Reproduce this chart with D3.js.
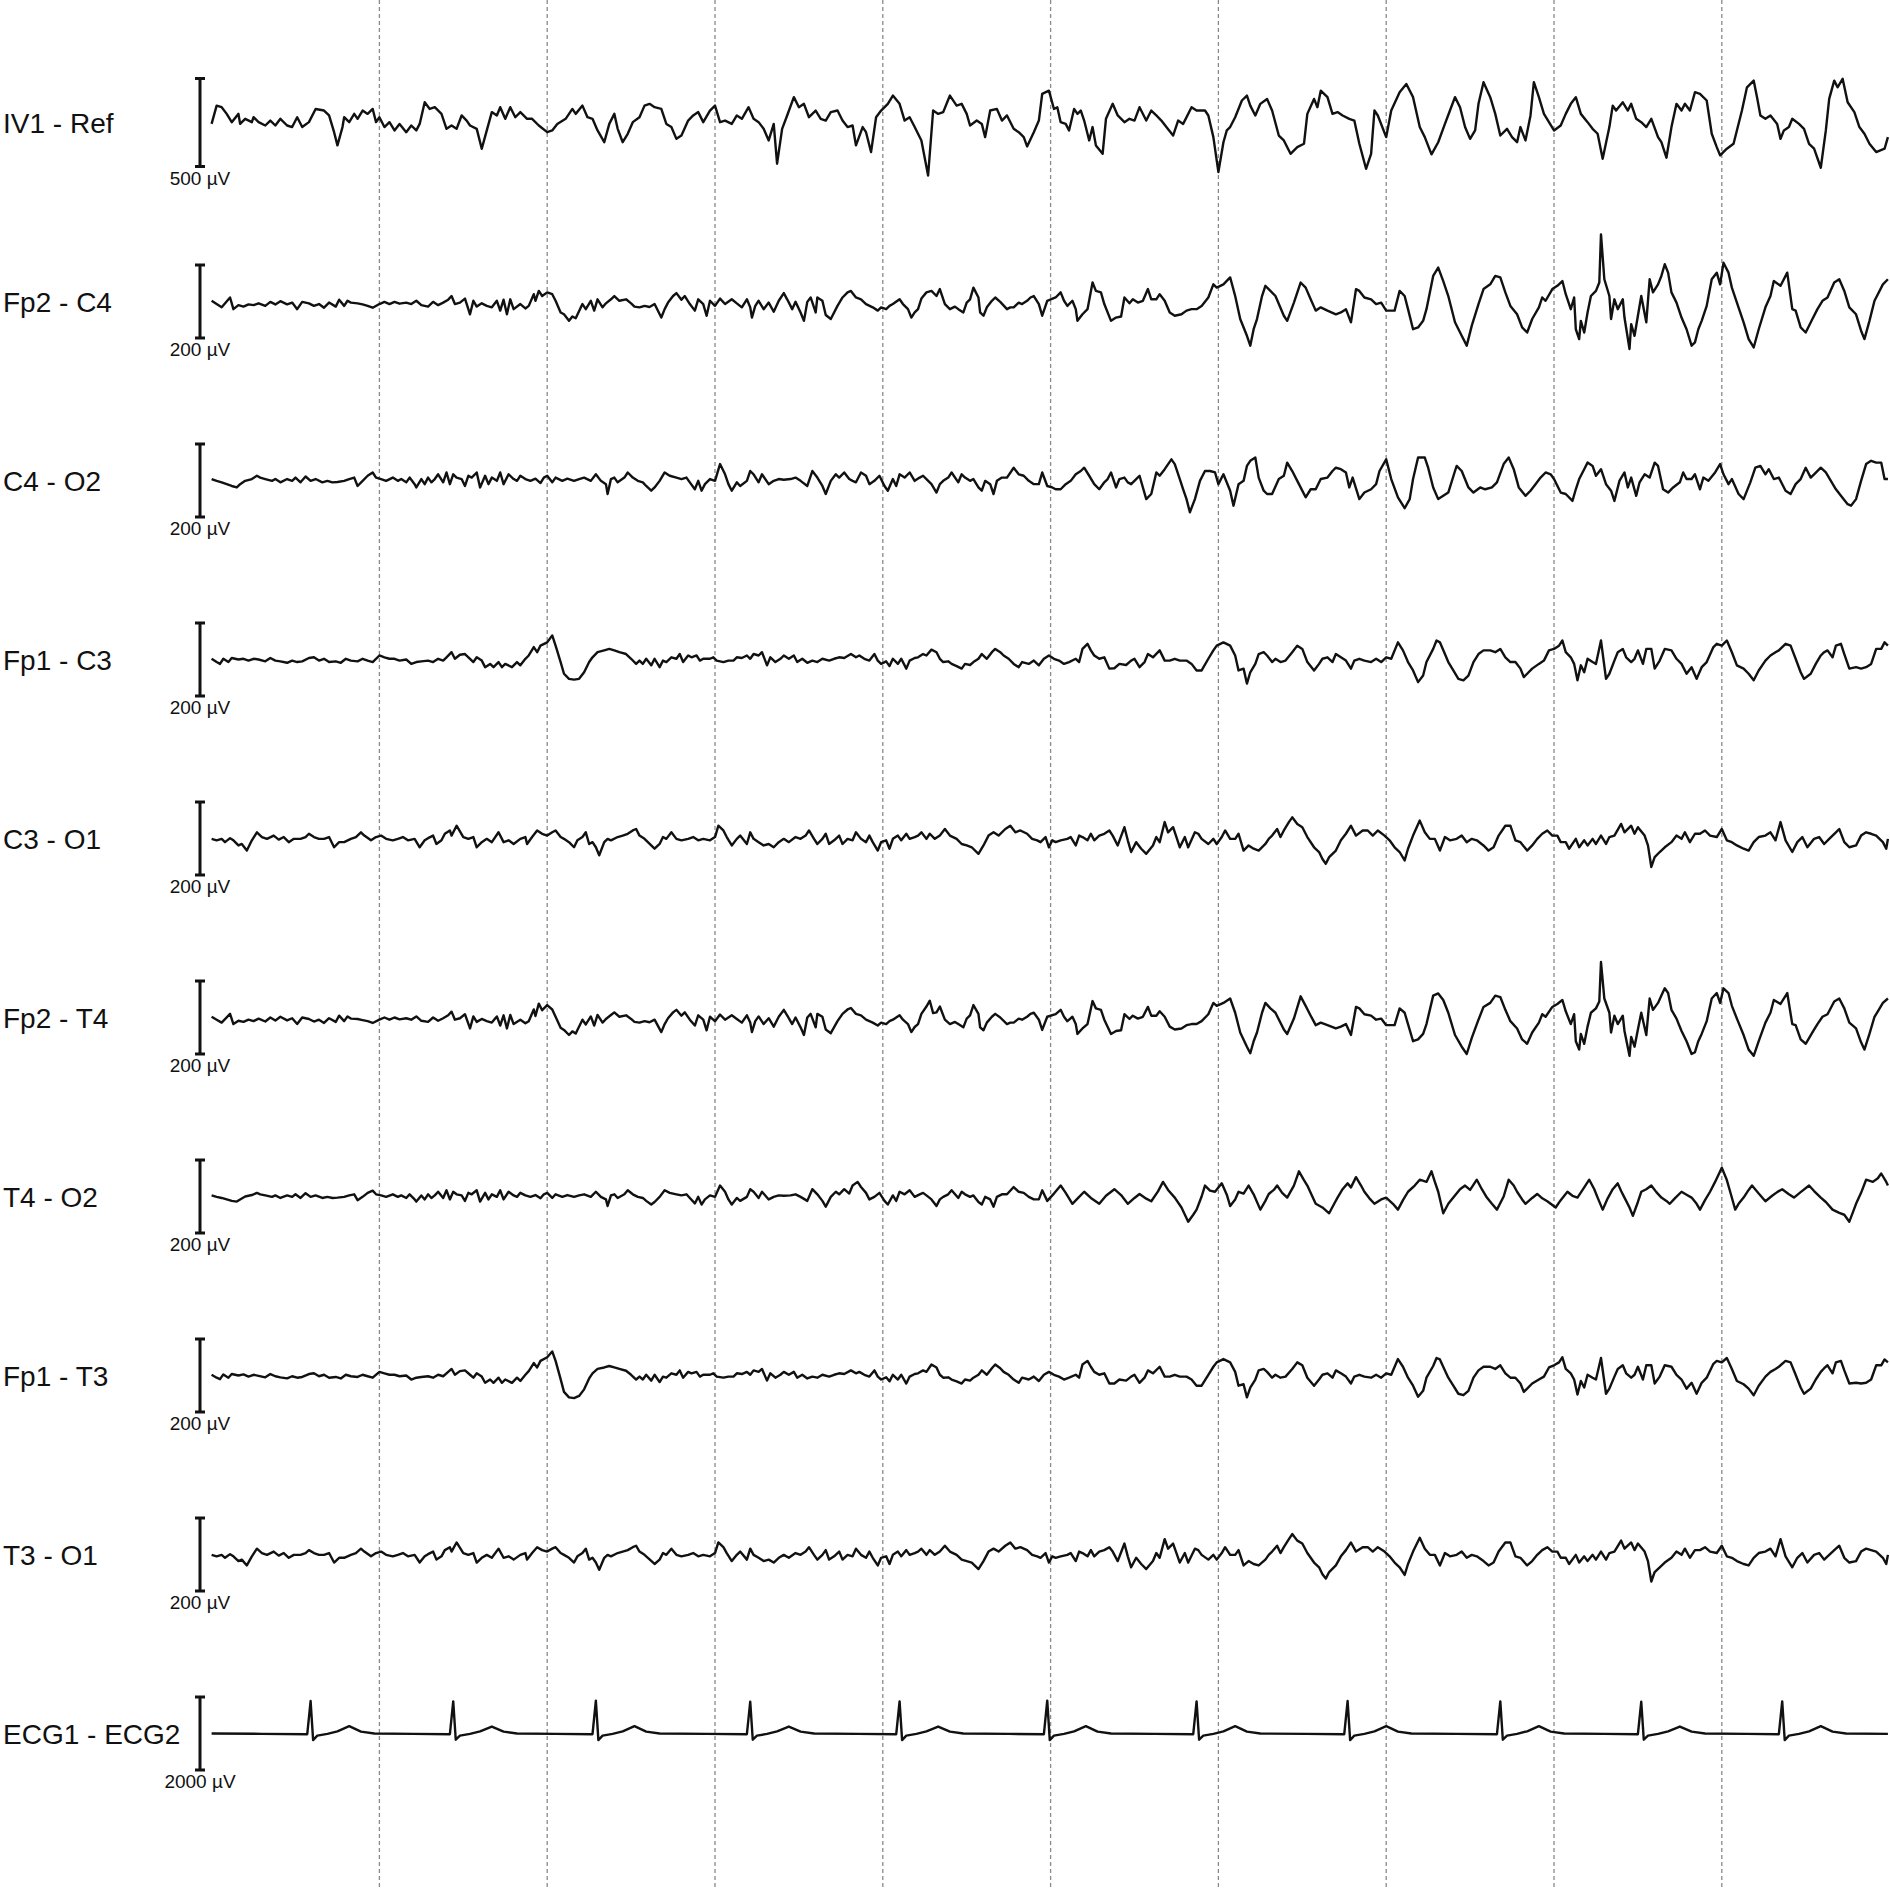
<!DOCTYPE html>
<html>
<head>
<meta charset="utf-8">
<script src="https://cdnjs.cloudflare.com/ajax/libs/d3/7.8.5/d3.min.js"></script>
<style>
    body { margin: 0; background: #fff; }
    svg { display: block; }
</style>
</head>
<body>
<svg id="eegSvg" width="1890" height="1890"></svg>
<script>
var channels = ["IV1 - Ref", "Fp2 - C4", "C4 - O2", "Fp1 - C3", "C3 - O1",
    "Fp2 - T4", "T4 - O2", "Fp1 - T3", "T3 - O1", "ECG1 - ECG2"];
var scaleBarsUv = [500, 200, 200, 200, 200, 200, 200, 200, 200, 2000];
var gridSeconds = [1, 2, 3, 4, 5, 6, 7, 8, 9];
var duration = [0, 10];

// [seconds, microvolts]
var iv1Ref = [[0,-8],[0.03,96],[0.06,87],[0.09,49],[0.12,2],[0.16,49],[0.17,-8],[0.2,21],[0.24,2],[0.25,30],[0.28,2],[0.32,-17],[0.35,11],[0.38,-17],[0.41,21],[0.45,-17],[0.48,-26],[0.51,30],[0.54,-26],[0.58,2],[0.62,77],[0.67,68],[0.7,40],[0.73,-55],[0.75,-130],[0.78,-26],[0.79,30],[0.82,2],[0.85,49],[0.87,21],[0.9,68],[0.93,49],[0.96,77],[0.98,2],[1,30],[1.03,-26],[1.06,2],[1.09,-45],[1.12,-8],[1.16,-55],[1.19,-17],[1.22,-45],[1.24,-8],[1.27,115],[1.3,77],[1.33,87],[1.37,49],[1.4,-36],[1.43,-17],[1.46,-36],[1.49,40],[1.52,11],[1.54,-17],[1.58,-36],[1.61,-149],[1.64,-45],[1.67,59],[1.7,40],[1.72,87],[1.75,21],[1.78,87],[1.81,30],[1.84,59],[1.88,21],[1.91,21],[1.95,-17],[2,-55],[2.03,-45],[2.06,-8],[2.11,21],[2.15,77],[2.17,49],[2.21,96],[2.24,30],[2.27,21],[2.3,-45],[2.34,-112],[2.37,-8],[2.4,49],[2.42,-36],[2.45,-112],[2.48,-64],[2.51,2],[2.55,30],[2.58,96],[2.61,106],[2.64,87],[2.68,77],[2.71,-8],[2.74,-26],[2.77,-93],[2.8,-74],[2.84,11],[2.87,40],[2.9,59],[2.93,2],[2.97,68],[3,96],[3.03,2],[3.06,11],[3.1,-8],[3.13,40],[3.16,21],[3.2,87],[3.23,21],[3.26,2],[3.29,-36],[3.32,-102],[3.35,-8],[3.37,-234],[3.4,-36],[3.43,40],[3.47,144],[3.5,87],[3.53,106],[3.56,30],[3.6,68],[3.63,21],[3.66,11],[3.69,59],[3.73,68],[3.76,11],[3.79,-26],[3.82,-17],[3.84,-130],[3.88,-26],[3.9,-55],[3.93,-168],[3.96,30],[3.99,68],[4.03,106],[4.06,153],[4.1,106],[4.13,11],[4.16,30],[4.19,-26],[4.23,-102],[4.27,-301],[4.3,68],[4.33,49],[4.36,59],[4.4,153],[4.44,96],[4.47,106],[4.5,49],[4.52,-17],[4.56,11],[4.59,-8],[4.61,-83],[4.64,68],[4.68,77],[4.71,11],[4.74,40],[4.78,-36],[4.81,-55],[4.84,-83],[4.86,-136],[4.9,-55],[4.93,11],[4.95,163],[4.99,181],[5.02,77],[5.04,87],[5.06,2],[5.09,-8],[5.11,-45],[5.14,77],[5.16,49],[5.18,68],[5.2,11],[5.23,-102],[5.25,-26],[5.27,-130],[5.31,-178],[5.33,21],[5.37,106],[5.4,40],[5.44,2],[5.47,21],[5.5,11],[5.53,87],[5.57,11],[5.6,68],[5.63,40],[5.66,11],[5.69,-26],[5.73,-74],[5.76,11],[5.79,-8],[5.84,87],[5.87,68],[5.92,68],[5.94,40],[5.97,-83],[6,-282],[6.03,-112],[6.05,-45],[6.07,-26],[6.1,30],[6.14,125],[6.17,153],[6.19,96],[6.22,40],[6.25,106],[6.29,134],[6.32,68],[6.36,-74],[6.39,-102],[6.43,-178],[6.47,-140],[6.51,-121],[6.53,49],[6.57,134],[6.59,87],[6.61,181],[6.65,144],[6.68,49],[6.71,59],[6.74,40],[6.78,21],[6.81,11],[6.84,-121],[6.88,-263],[6.91,-178],[6.93,68],[6.95,40],[7,-83],[7.03,68],[7.08,172],[7.12,219],[7.16,144],[7.2,-26],[7.23,-83],[7.27,-181],[7.31,-112],[7.35,-8],[7.38,68],[7.41,144],[7.44,87],[7.47,-26],[7.5,-93],[7.53,-45],[7.55,106],[7.58,229],[7.62,144],[7.65,49],[7.68,-74],[7.72,-36],[7.75,-83],[7.78,-112],[7.8,-26],[7.83,-102],[7.86,40],[7.88,229],[7.91,144],[7.94,49],[7.97,2],[8,-45],[8.04,-17],[8.07,49],[8.1,106],[8.13,144],[8.16,49],[8.2,2],[8.23,-36],[8.26,-64],[8.29,-206],[8.33,-26],[8.35,96],[8.37,68],[8.41,115],[8.44,68],[8.46,106],[8.49,21],[8.52,2],[8.55,-26],[8.58,21],[8.62,-83],[8.64,-112],[8.67,-200],[8.7,-26],[8.73,106],[8.76,68],[8.78,106],[8.81,68],[8.84,172],[8.87,163],[8.91,125],[8.94,-64],[8.97,-140],[8.99,-187],[9.03,-149],[9.07,-121],[9.12,68],[9.15,200],[9.19,238],[9.21,144],[9.23,40],[9.26,21],[9.29,40],[9.33,-8],[9.35,-93],[9.37,-45],[9.4,-26],[9.42,21],[9.46,-8],[9.49,-36],[9.52,-121],[9.55,-149],[9.59,-257],[9.62,-45],[9.64,134],[9.67,238],[9.69,200],[9.72,248],[9.75,115],[9.79,59],[9.82,-26],[9.85,-64],[9.88,-121],[9.92,-168],[9.97,-149],[9.99,-83]];

var fp2C4 = [[0,2],[0.03,-7],[0.06,-16],[0.11,11],[0.13,-21],[0.16,-10],[0.19,-14],[0.22,-8],[0.25,-10],[0.28,-5],[0.32,-12],[0.35,-1],[0.38,-8],[0.41,1],[0.45,-8],[0.48,-3],[0.51,-21],[0.54,-1],[0.58,-5],[0.61,-12],[0.64,-7],[0.67,-17],[0.7,-3],[0.74,-14],[0.76,5],[0.79,-12],[0.81,2],[0.83,-3],[0.87,-5],[0.9,-8],[0.93,-12],[0.96,-17],[1,-7],[1.03,-1],[1.06,-7],[1.09,-1],[1.12,-6],[1.16,-3],[1.19,-7],[1.22,2],[1.25,-10],[1.29,-14],[1.32,-1],[1.35,-10],[1.38,-3],[1.41,5],[1.43,15],[1.45,-7],[1.48,-3],[1.51,8],[1.54,-35],[1.56,2],[1.58,-14],[1.61,-5],[1.64,-12],[1.67,-16],[1.7,2],[1.72,-25],[1.74,5],[1.76,-35],[1.78,6],[1.8,-21],[1.84,-7],[1.87,-19],[1.89,-12],[1.92,20],[1.93,2],[1.95,29],[1.97,15],[2,25],[2.03,20],[2.05,2],[2.08,-30],[2.1,-35],[2.13,-53],[2.15,-41],[2.17,-46],[2.21,-7],[2.23,-21],[2.26,2],[2.28,-25],[2.3,6],[2.33,-16],[2.35,-5],[2.38,6],[2.4,15],[2.43,2],[2.47,6],[2.5,-5],[2.52,-14],[2.55,-16],[2.58,-12],[2.61,-15],[2.64,-7],[2.68,-44],[2.7,-21],[2.72,-3],[2.75,15],[2.77,23],[2.8,5],[2.82,15],[2.85,-7],[2.88,-25],[2.9,6],[2.93,-7],[2.95,-39],[2.97,2],[3,-12],[3.03,8],[3.06,-7],[3.1,6],[3.13,-5],[3.16,-16],[3.19,6],[3.21,-16],[3.22,-44],[3.24,-12],[3.26,2],[3.29,-21],[3.32,-3],[3.35,-28],[3.38,2],[3.41,23],[3.43,6],[3.46,-21],[3.48,-1],[3.51,-30],[3.53,-53],[3.55,-1],[3.57,11],[3.6,-30],[3.61,11],[3.64,2],[3.66,-37],[3.69,-48],[3.73,-12],[3.76,11],[3.79,25],[3.81,29],[3.84,11],[3.87,6],[3.9,-7],[3.94,-16],[3.97,-25],[3.99,-16],[4.02,-21],[4.04,-12],[4.06,-7],[4.1,6],[4.12,-7],[4.15,-21],[4.17,-44],[4.19,-30],[4.21,-21],[4.23,8],[4.26,25],[4.29,29],[4.32,15],[4.34,34],[4.37,-7],[4.4,-21],[4.43,-14],[4.45,-21],[4.48,-30],[4.5,-3],[4.52,6],[4.54,38],[4.57,11],[4.58,-30],[4.6,-39],[4.62,-16],[4.65,2],[4.67,11],[4.7,-1],[4.74,-21],[4.76,-16],[4.78,-16],[4.81,-3],[4.83,-7],[4.86,2],[4.88,11],[4.9,15],[4.93,-7],[4.95,-39],[4.98,2],[5.03,11],[5.06,25],[5.08,2],[5.1,-12],[5.13,2],[5.15,-21],[5.16,-53],[5.19,-35],[5.22,-21],[5.25,52],[5.27,29],[5.3,25],[5.32,-7],[5.36,-53],[5.39,-44],[5.42,-41],[5.44,11],[5.47,-5],[5.49,6],[5.52,-3],[5.55,2],[5.58,34],[5.6,6],[5.63,6],[5.65,20],[5.68,2],[5.71,-30],[5.74,-39],[5.78,-35],[5.81,-25],[5.84,-21],[5.87,-21],[5.9,-12],[5.94,11],[5.97,47],[5.99,38],[6.03,47],[6.07,66],[6.1,15],[6.13,-48],[6.17,-94],[6.19,-121],[6.21,-76],[6.23,-48],[6.26,15],[6.28,43],[6.31,29],[6.34,15],[6.39,-39],[6.41,-53],[6.45,-3],[6.49,52],[6.52,38],[6.55,6],[6.58,-25],[6.61,-16],[6.65,-25],[6.7,-35],[6.73,-30],[6.76,-21],[6.79,-57],[6.82,34],[6.84,29],[6.87,11],[6.91,6],[6.94,-7],[6.97,-3],[7,-25],[7.05,-25],[7.08,29],[7.11,15],[7.13,-21],[7.16,-76],[7.19,-71],[7.22,-53],[7.24,-21],[7.28,70],[7.31,93],[7.34,56],[7.37,15],[7.41,-57],[7.45,-94],[7.48,-121],[7.51,-66],[7.55,-7],[7.58,34],[7.62,47],[7.65,70],[7.68,66],[7.71,25],[7.74,-12],[7.78,-35],[7.81,-71],[7.84,-85],[7.87,-48],[7.91,-16],[7.93,11],[7.95,2],[7.99,34],[8.02,43],[8.05,56],[8.07,20],[8.1,-21],[8.12,11],[8.13,-76],[8.15,-103],[8.16,-53],[8.18,-85],[8.2,-30],[8.22,15],[8.25,29],[8.27,52],[8.28,184],[8.3,61],[8.33,15],[8.34,-48],[8.36,6],[8.38,-21],[8.41,6],[8.42,-44],[8.45,-130],[8.46,-62],[8.48,-94],[8.5,-39],[8.52,15],[8.55,-57],[8.57,61],[8.59,25],[8.62,47],[8.64,70],[8.66,102],[8.68,79],[8.7,25],[8.73,-3],[8.76,-44],[8.79,-76],[8.82,-121],[8.84,-112],[8.86,-76],[8.88,-53],[8.91,-12],[8.94,61],[8.97,79],[8.99,47],[9.01,106],[9.04,79],[9.06,38],[9.09,-3],[9.13,-57],[9.16,-103],[9.19,-126],[9.22,-76],[9.26,-16],[9.29,15],[9.31,56],[9.35,43],[9.39,79],[9.42,-21],[9.44,-25],[9.47,-71],[9.5,-85],[9.54,-48],[9.57,-21],[9.6,2],[9.63,11],[9.67,52],[9.7,61],[9.73,29],[9.76,-16],[9.8,-35],[9.83,-80],[9.85,-103],[9.88,-53],[9.91,2],[9.93,20],[9.96,47],[9.99,61]];

var c4O2 = [[0,4],[0.03,-1],[0.06,-5],[0.09,-10],[0.12,-15],[0.15,-19],[0.17,-10],[0.2,-1],[0.24,4],[0.27,13],[0.29,8],[0.32,4],[0.36,-1],[0.38,4],[0.41,-5],[0.45,4],[0.48,-1],[0.5,8],[0.53,-5],[0.56,11],[0.59,-1],[0.62,4],[0.66,-5],[0.69,-1],[0.72,-5],[0.75,-4],[0.79,-1],[0.82,4],[0.85,8],[0.87,-15],[0.9,-1],[0.93,13],[0.96,22],[0.98,8],[1.01,4],[1.04,-1],[1.08,8],[1.11,-1],[1.13,4],[1.16,-5],[1.18,8],[1.21,-10],[1.22,-19],[1.25,4],[1.27,-10],[1.29,8],[1.31,-5],[1.33,4],[1.35,17],[1.38,-5],[1.4,22],[1.42,-10],[1.44,17],[1.46,8],[1.49,4],[1.51,-15],[1.53,13],[1.55,8],[1.58,22],[1.6,-19],[1.63,13],[1.65,-10],[1.67,8],[1.7,-1],[1.72,22],[1.74,-10],[1.77,17],[1.8,4],[1.82,-1],[1.84,13],[1.87,4],[1.9,-1],[1.93,5],[1.96,-7],[1.98,8],[2,13],[2.03,-5],[2.05,8],[2.09,-1],[2.12,5],[2.16,-1],[2.19,4],[2.22,8],[2.26,-1],[2.29,17],[2.32,-1],[2.35,-10],[2.36,-37],[2.38,4],[2.4,8],[2.42,-5],[2.46,8],[2.48,22],[2.51,8],[2.54,-1],[2.57,-5],[2.59,-15],[2.62,-28],[2.64,-19],[2.67,-1],[2.7,22],[2.73,13],[2.77,8],[2.8,4],[2.83,8],[2.85,-5],[2.88,-24],[2.9,-1],[2.92,-28],[2.94,-10],[2.97,4],[3,-1],[3.03,45],[3.06,17],[3.08,-10],[3.1,-28],[3.13,-5],[3.15,-15],[3.19,-1],[3.21,26],[3.23,17],[3.26,-5],[3.28,17],[3.32,-10],[3.35,-1],[3.38,4],[3.41,2],[3.45,4],[3.48,8],[3.51,-1],[3.55,-15],[3.58,26],[3.61,8],[3.64,-15],[3.66,-37],[3.69,-1],[3.72,17],[3.74,8],[3.77,22],[3.8,4],[3.82,-1],[3.84,-5],[3.87,22],[3.9,13],[3.92,-10],[3.95,-1],[3.98,13],[4.01,-15],[4.03,-28],[4.06,4],[4.08,-15],[4.1,17],[4.13,8],[4.16,22],[4.19,-1],[4.22,8],[4.24,13],[4.26,4],[4.29,-10],[4.32,-33],[4.34,-10],[4.36,-1],[4.39,8],[4.41,22],[4.45,-5],[4.47,17],[4.49,8],[4.52,-1],[4.54,4],[4.57,-19],[4.59,-28],[4.61,-1],[4.64,-10],[4.66,-37],[4.68,-1],[4.71,8],[4.74,8],[4.78,35],[4.81,17],[4.84,13],[4.87,-1],[4.9,-10],[4.93,-10],[4.95,22],[4.98,-15],[5.01,-19],[5.03,-24],[5.06,-24],[5.09,-10],[5.12,-1],[5.15,17],[5.18,26],[5.2,35],[5.23,13],[5.26,-10],[5.29,-24],[5.32,-5],[5.34,4],[5.36,22],[5.39,-19],[5.41,4],[5.44,8],[5.46,-5],[5.48,-10],[5.51,4],[5.53,13],[5.57,-51],[5.6,-37],[5.63,22],[5.65,13],[5.68,31],[5.72,58],[5.74,45],[5.77,4],[5.79,-24],[5.81,-51],[5.83,-87],[5.86,-51],[5.89,-1],[5.92,26],[5.95,26],[5.98,22],[6,-10],[6.03,17],[6.07,-28],[6.09,-69],[6.12,-10],[6.15,-1],[6.17,40],[6.19,54],[6.22,63],[6.24,8],[6.27,-28],[6.29,-37],[6.32,-37],[6.36,4],[6.39,13],[6.41,49],[6.44,26],[6.48,-10],[6.52,-46],[6.55,-24],[6.58,-24],[6.61,4],[6.65,8],[6.68,26],[6.7,35],[6.73,31],[6.76,22],[6.78,-19],[6.8,8],[6.84,-51],[6.87,-33],[6.91,-24],[6.94,-10],[6.96,26],[7,58],[7.03,4],[7.07,-46],[7.11,-76],[7.14,-51],[7.16,4],[7.19,63],[7.23,63],[7.25,35],[7.28,-19],[7.31,-51],[7.34,-42],[7.37,-33],[7.41,26],[7.42,40],[7.45,26],[7.49,-19],[7.52,-33],[7.56,-19],[7.59,-24],[7.63,-19],[7.66,-5],[7.7,45],[7.73,63],[7.76,31],[7.79,-19],[7.83,-42],[7.86,-28],[7.89,-10],[7.92,8],[7.95,22],[7.98,17],[8,4],[8.04,-33],[8.07,-37],[8.11,-56],[8.13,-24],[8.15,4],[8.18,31],[8.2,49],[8.23,40],[8.25,13],[8.28,31],[8.31,-10],[8.34,-28],[8.36,-56],[8.39,-1],[8.42,22],[8.44,-19],[8.46,8],[8.49,-42],[8.51,-5],[8.54,17],[8.57,8],[8.6,49],[8.62,40],[8.65,-24],[8.68,-33],[8.71,-19],[8.75,-5],[8.77,22],[8.79,4],[8.82,4],[8.84,17],[8.87,-24],[8.89,8],[8.92,-1],[8.96,22],[8.99,45],[9.01,17],[9.04,-10],[9.06,4],[9.1,-37],[9.13,-51],[9.17,-5],[9.2,35],[9.23,40],[9.26,17],[9.28,31],[9.31,4],[9.34,8],[9.38,-28],[9.41,-37],[9.44,-10],[9.47,4],[9.5,35],[9.53,8],[9.55,17],[9.59,35],[9.62,22],[9.65,-1],[9.68,-24],[9.71,-42],[9.75,-65],[9.77,-69],[9.8,-51],[9.83,-1],[9.86,45],[9.89,54],[9.92,49],[9.95,49],[9.97,4],[9.99,4]];

var fp1C3 = [[0,2],[0.03,-7],[0.05,-12],[0.07,2],[0.1,-7],[0.12,4],[0.16,0],[0.19,2],[0.22,-3],[0.25,2],[0.28,0],[0.32,-5],[0.35,4],[0.38,-3],[0.41,-5],[0.45,-9],[0.48,-3],[0.51,-7],[0.54,-5],[0.58,4],[0.61,6],[0.64,-3],[0.67,2],[0.7,-7],[0.74,-5],[0.77,-9],[0.8,2],[0.83,-3],[0.87,-5],[0.9,2],[0.93,-3],[0.96,-7],[1,11],[1.03,6],[1.06,2],[1.09,2],[1.12,-3],[1.16,0],[1.19,-12],[1.22,-7],[1.25,-5],[1.29,-3],[1.32,-7],[1.35,2],[1.38,-3],[1.4,6],[1.43,20],[1.45,2],[1.48,13],[1.51,15],[1.54,2],[1.56,-7],[1.58,6],[1.61,-3],[1.63,-21],[1.66,-12],[1.68,-21],[1.71,-7],[1.73,-21],[1.75,-12],[1.79,-21],[1.82,-7],[1.84,-16],[1.87,2],[1.89,11],[1.92,34],[1.94,20],[1.96,38],[2,47],[2.03,66],[2.05,38],[2.08,-7],[2.1,-39],[2.13,-53],[2.16,-55],[2.19,-53],[2.22,-35],[2.25,-7],[2.27,6],[2.3,20],[2.34,25],[2.37,29],[2.4,25],[2.43,20],[2.47,15],[2.5,2],[2.53,-12],[2.55,-3],[2.57,-12],[2.59,2],[2.62,-16],[2.64,2],[2.67,-21],[2.69,-3],[2.71,-7],[2.74,6],[2.77,2],[2.79,15],[2.81,-7],[2.84,11],[2.86,6],[2.89,11],[2.91,-3],[2.93,2],[2.97,2],[2.99,6],[3.01,-3],[3.05,-7],[3.08,-3],[3.11,-3],[3.13,6],[3.16,4],[3.19,11],[3.21,2],[3.23,15],[3.26,11],[3.28,20],[3.31,-16],[3.33,6],[3.36,-7],[3.39,2],[3.41,11],[3.44,2],[3.47,11],[3.49,-7],[3.52,2],[3.55,-9],[3.58,-3],[3.61,-7],[3.64,2],[3.68,-3],[3.71,2],[3.74,6],[3.77,4],[3.81,15],[3.84,6],[3.86,11],[3.89,2],[3.92,-3],[3.95,15],[3.97,-3],[3.99,-12],[4.02,-5],[4.04,-18],[4.06,2],[4.09,-12],[4.11,2],[4.14,-25],[4.16,-3],[4.19,4],[4.21,6],[4.24,15],[4.26,11],[4.29,27],[4.32,20],[4.34,2],[4.36,-7],[4.39,-5],[4.41,-12],[4.44,-18],[4.47,-25],[4.49,-12],[4.52,-15],[4.54,-7],[4.57,2],[4.59,15],[4.62,2],[4.65,20],[4.67,29],[4.7,20],[4.72,11],[4.75,2],[4.78,-12],[4.81,-21],[4.83,-7],[4.87,-12],[4.9,-3],[4.93,-16],[4.96,2],[4.99,11],[5.02,2],[5.05,-3],[5.08,-12],[5.11,-7],[5.15,2],[5.17,-7],[5.19,29],[5.22,43],[5.24,25],[5.26,11],[5.29,2],[5.32,6],[5.35,-25],[5.38,-24],[5.41,-12],[5.45,-15],[5.48,-3],[5.5,2],[5.53,-21],[5.56,-7],[5.58,15],[5.61,6],[5.65,25],[5.68,-3],[5.71,-3],[5.74,2],[5.77,-3],[5.81,-3],[5.84,-12],[5.87,-30],[5.9,-30],[5.94,2],[5.97,25],[5.99,38],[6.03,47],[6.07,38],[6.1,11],[6.12,-30],[6.15,-25],[6.17,-66],[6.19,-35],[6.22,-12],[6.24,15],[6.27,20],[6.29,11],[6.32,-7],[6.34,2],[6.37,-7],[6.4,-3],[6.44,20],[6.47,38],[6.5,29],[6.53,-7],[6.57,-30],[6.6,-12],[6.62,2],[6.65,6],[6.68,-7],[6.7,15],[6.73,6],[6.76,-3],[6.79,-25],[6.81,-3],[6.84,2],[6.87,-3],[6.91,-7],[6.94,2],[6.97,-7],[7,6],[7.03,2],[7.07,47],[7.1,25],[7.13,-7],[7.16,-30],[7.19,-62],[7.22,-44],[7.24,-7],[7.28,29],[7.3,52],[7.32,47],[7.35,15],[7.37,-7],[7.4,-30],[7.43,-53],[7.46,-57],[7.49,-44],[7.52,-7],[7.55,15],[7.58,25],[7.62,25],[7.65,20],[7.68,29],[7.71,6],[7.74,-7],[7.77,-7],[7.8,-25],[7.82,-48],[7.84,-39],[7.87,-25],[7.91,-12],[7.94,-3],[7.97,25],[8,29],[8.03,38],[8.05,52],[8.07,20],[8.1,6],[8.12,-12],[8.14,-57],[8.16,-16],[8.18,-35],[8.2,2],[8.23,-7],[8.25,-12],[8.28,52],[8.31,-53],[8.33,-39],[8.36,-3],[8.38,20],[8.41,29],[8.43,6],[8.46,-7],[8.48,2],[8.5,25],[8.53,-12],[8.55,29],[8.58,29],[8.6,-25],[8.63,-3],[8.66,29],[8.7,25],[8.73,2],[8.76,-12],[8.79,-39],[8.82,-21],[8.85,-53],[8.88,-21],[8.91,-7],[8.95,34],[8.97,43],[9,38],[9.03,52],[9.06,20],[9.09,-16],[9.13,-25],[9.16,-39],[9.19,-57],[9.22,-30],[9.26,-3],[9.29,11],[9.32,20],[9.34,25],[9.38,43],[9.41,38],[9.44,2],[9.47,-35],[9.49,-53],[9.53,-39],[9.56,-12],[9.59,11],[9.61,20],[9.63,25],[9.66,6],[9.68,38],[9.71,43],[9.73,15],[9.76,-25],[9.8,-21],[9.83,-25],[9.86,-21],[9.89,-12],[9.92,29],[9.95,29],[9.97,47],[9.99,38]];

var c3O1 = [[0,-1],[0.03,-5],[0.06,-1],[0.08,-10],[0.11,1],[0.13,-5],[0.16,-19],[0.18,-15],[0.21,-33],[0.24,-5],[0.27,17],[0.3,4],[0.33,-1],[0.37,8],[0.4,-3],[0.43,4],[0.46,-10],[0.49,-1],[0.53,-1],[0.56,4],[0.58,13],[0.61,4],[0.64,-1],[0.67,-1],[0.7,4],[0.73,-24],[0.76,-10],[0.79,-10],[0.83,-1],[0.86,4],[0.89,17],[0.91,8],[0.95,-5],[0.98,4],[1.01,8],[1.04,-1],[1.08,-5],[1.11,-1],[1.14,4],[1.17,-5],[1.21,-1],[1.24,-24],[1.27,-5],[1.29,1],[1.32,8],[1.34,-15],[1.37,-5],[1.39,13],[1.42,22],[1.43,8],[1.46,35],[1.5,4],[1.53,-1],[1.56,4],[1.58,-24],[1.61,-10],[1.64,-1],[1.67,-10],[1.71,17],[1.74,-10],[1.77,-5],[1.8,-15],[1.84,-1],[1.87,4],[1.88,-15],[1.91,4],[1.94,22],[1.97,13],[2,8],[2.03,17],[2.05,22],[2.08,4],[2.1,-1],[2.13,-10],[2.16,-24],[2.18,-5],[2.21,4],[2.23,17],[2.25,-15],[2.27,-10],[2.29,-24],[2.31,-46],[2.34,-10],[2.36,-1],[2.38,-5],[2.42,4],[2.45,8],[2.48,13],[2.51,22],[2.53,26],[2.55,8],[2.58,-1],[2.6,-10],[2.64,-28],[2.67,-15],[2.69,4],[2.71,-1],[2.74,17],[2.77,-1],[2.8,-5],[2.84,-1],[2.87,4],[2.9,-5],[2.93,-1],[2.97,-5],[3,4],[3.02,35],[3.05,22],[3.07,4],[3.1,-19],[3.13,-1],[3.15,8],[3.19,-15],[3.21,17],[3.23,-1],[3.26,-10],[3.29,-19],[3.32,-15],[3.35,-24],[3.38,-10],[3.41,-1],[3.44,-10],[3.48,4],[3.51,-1],[3.54,8],[3.56,22],[3.59,-1],[3.61,-15],[3.64,-1],[3.66,13],[3.68,-15],[3.71,-5],[3.74,8],[3.76,-15],[3.79,-1],[3.82,-5],[3.84,17],[3.87,-1],[3.9,-10],[3.92,8],[3.94,-10],[3.97,-33],[3.99,-10],[4.02,-5],[4.04,-28],[4.06,-1],[4.09,8],[4.11,-5],[4.14,13],[4.16,-1],[4.19,4],[4.21,8],[4.23,17],[4.26,-1],[4.28,13],[4.31,-1],[4.34,8],[4.37,26],[4.4,8],[4.44,-1],[4.47,-15],[4.5,-19],[4.53,-24],[4.57,-42],[4.6,-19],[4.63,8],[4.66,17],[4.69,8],[4.73,26],[4.76,35],[4.79,17],[4.82,22],[4.86,13],[4.89,-1],[4.92,-5],[4.94,-10],[4.97,4],[4.99,-24],[5.01,-5],[5.03,-10],[5.06,-5],[5.1,-1],[5.12,4],[5.15,-19],[5.17,8],[5.19,4],[5.22,-5],[5.24,13],[5.26,-5],[5.29,8],[5.32,13],[5.35,22],[5.37,8],[5.4,-19],[5.44,31],[5.46,-5],[5.48,-37],[5.51,-10],[5.54,-28],[5.57,-42],[5.61,-19],[5.63,4],[5.65,-10],[5.68,45],[5.7,17],[5.73,31],[5.75,4],[5.77,-24],[5.8,4],[5.82,-24],[5.86,17],[5.88,13],[5.9,-1],[5.94,-15],[5.97,-1],[5.99,-15],[6.02,4],[6.04,22],[6.07,-1],[6.1,-1],[6.12,13],[6.15,-33],[6.18,-19],[6.21,-28],[6.24,-33],[6.28,-15],[6.3,-1],[6.32,8],[6.35,26],[6.37,4],[6.39,22],[6.42,45],[6.44,58],[6.47,40],[6.5,31],[6.53,4],[6.57,-24],[6.6,-37],[6.62,-56],[6.64,-69],[6.66,-51],[6.7,-33],[6.73,-5],[6.76,13],[6.79,35],[6.82,8],[6.86,22],[6.89,22],[6.92,8],[6.95,22],[6.99,8],[7.02,-5],[7.05,-24],[7.08,-37],[7.11,-60],[7.13,-28],[7.16,8],[7.2,49],[7.23,17],[7.26,-1],[7.29,-1],[7.32,-33],[7.35,4],[7.38,-5],[7.42,-1],[7.45,8],[7.48,-10],[7.51,-1],[7.54,-5],[7.58,-19],[7.61,-33],[7.64,-24],[7.67,8],[7.71,35],[7.74,35],[7.77,-5],[7.8,-10],[7.84,-33],[7.87,-19],[7.9,-1],[7.93,13],[7.96,22],[7.99,8],[8.02,8],[8.04,-10],[8.07,-10],[8.09,-28],[8.13,-1],[8.15,-24],[8.18,-5],[8.2,-19],[8.23,-1],[8.25,-15],[8.28,8],[8.31,-15],[8.33,4],[8.36,8],[8.4,40],[8.42,17],[8.46,35],[8.48,13],[8.5,31],[8.54,8],[8.56,-19],[8.58,-78],[8.6,-51],[8.63,-37],[8.66,-24],[8.7,-10],[8.73,8],[8.76,-1],[8.78,17],[8.81,-10],[8.84,13],[8.87,13],[8.9,22],[8.93,8],[8.97,4],[9,26],[9.03,-5],[9.06,-10],[9.09,-19],[9.13,-28],[9.16,-33],[9.19,-10],[9.22,4],[9.26,8],[9.29,17],[9.32,-5],[9.35,45],[9.38,-5],[9.42,-37],[9.45,-10],[9.48,4],[9.51,-24],[9.55,-1],[9.58,4],[9.61,-15],[9.64,-1],[9.68,17],[9.7,26],[9.73,-10],[9.76,-24],[9.8,-19],[9.83,8],[9.86,17],[9.89,13],[9.92,8],[9.96,-10],[9.98,-28],[9.99,-1]];

var fp2T4 = [[0,2],[0.03,-6],[0.06,-14],[0.11,10],[0.13,-18],[0.16,-9],[0.19,-12],[0.22,-6],[0.25,-10],[0.28,-3],[0.32,-11],[0.35,0],[0.38,-8],[0.41,2],[0.45,-8],[0.48,-2],[0.51,-18],[0.54,0],[0.58,-4],[0.61,-11],[0.64,-6],[0.67,-15],[0.7,-2],[0.74,-12],[0.76,5],[0.79,-10],[0.81,3],[0.83,-3],[0.87,-4],[0.9,-7],[0.93,-10],[0.96,-15],[1,-6],[1.03,0],[1.06,-6],[1.09,0],[1.12,-5],[1.16,-2],[1.19,-6],[1.22,3],[1.25,-9],[1.29,-12],[1.32,0],[1.35,-9],[1.38,-2],[1.41,6],[1.43,16],[1.45,-6],[1.48,-2],[1.51,9],[1.54,-30],[1.56,3],[1.58,-12],[1.61,-4],[1.64,-10],[1.67,-14],[1.7,3],[1.72,-22],[1.74,6],[1.76,-30],[1.78,7],[1.8,-18],[1.84,-6],[1.87,-16],[1.89,-10],[1.92,22],[1.93,4],[1.95,38],[1.97,20],[2,34],[2.03,22],[2.05,2],[2.08,-28],[2.1,-34],[2.13,-48],[2.15,-38],[2.17,-44],[2.21,-6],[2.23,-19],[2.26,3],[2.28,-22],[2.3,7],[2.33,-14],[2.35,-4],[2.38,7],[2.4,14],[2.43,2],[2.47,6],[2.5,-4],[2.52,-12],[2.55,-14],[2.58,-10],[2.61,-13],[2.64,-6],[2.68,-40],[2.7,-18],[2.72,-2],[2.75,14],[2.77,21],[2.8,5],[2.82,14],[2.85,-6],[2.88,-22],[2.9,6],[2.93,-6],[2.95,-35],[2.97,2],[3,-10],[3.03,8],[3.06,-6],[3.1,6],[3.13,-4],[3.16,-14],[3.19,6],[3.21,-14],[3.22,-40],[3.24,-10],[3.26,3],[3.29,-18],[3.32,-2],[3.35,-25],[3.38,2],[3.41,21],[3.43,6],[3.46,-18],[3.48,0],[3.51,-27],[3.53,-48],[3.55,0],[3.57,10],[3.6,-27],[3.61,10],[3.64,2],[3.66,-33],[3.69,-43],[3.73,-10],[3.76,10],[3.79,22],[3.81,26],[3.84,10],[3.87,6],[3.9,-6],[3.94,-14],[3.97,-22],[3.99,-14],[4.02,-18],[4.04,-10],[4.06,-6],[4.1,6],[4.12,-6],[4.15,-18],[4.17,-40],[4.19,-26],[4.21,-18],[4.23,10],[4.26,30],[4.28,46],[4.3,12],[4.32,14],[4.34,30],[4.37,-6],[4.4,-18],[4.43,-12],[4.45,-18],[4.48,-27],[4.5,-3],[4.52,6],[4.54,34],[4.57,10],[4.58,-27],[4.6,-35],[4.62,-14],[4.65,2],[4.67,10],[4.7,0],[4.74,-18],[4.76,-14],[4.78,-14],[4.81,-3],[4.83,-6],[4.86,2],[4.88,10],[4.9,13],[4.93,-6],[4.95,-34],[4.98,2],[5.03,9],[5.06,21],[5.08,2],[5.1,-10],[5.13,2],[5.15,-18],[5.16,-45],[5.19,-30],[5.22,-18],[5.25,45],[5.27,25],[5.3,21],[5.32,-6],[5.36,-45],[5.39,-37],[5.42,-35],[5.44,9],[5.47,-4],[5.49,5],[5.52,-3],[5.55,2],[5.58,29],[5.6,5],[5.63,5],[5.65,17],[5.68,2],[5.71,-25],[5.74,-33],[5.78,-30],[5.81,-21],[5.84,-18],[5.87,-18],[5.9,-10],[5.94,9],[5.97,40],[5.99,32],[6.03,40],[6.07,52],[6.1,13],[6.13,-41],[6.17,-80],[6.19,-98],[6.21,-65],[6.23,-41],[6.26,13],[6.28,40],[6.31,25],[6.34,13],[6.39,-33],[6.41,-45],[6.45,-3],[6.49,58],[6.52,32],[6.55,5],[6.58,-21],[6.61,-14],[6.65,-21],[6.7,-30],[6.73,-25],[6.76,-18],[6.79,-48],[6.82,29],[6.84,25],[6.87,9],[6.91,5],[6.94,-6],[6.97,-3],[7,-21],[7.05,-21],[7.08,25],[7.11,13],[7.13,-18],[7.16,-65],[7.19,-60],[7.22,-45],[7.24,-18],[7.28,60],[7.31,66],[7.34,48],[7.37,13],[7.41,-48],[7.45,-80],[7.48,-100],[7.51,-56],[7.55,-6],[7.58,29],[7.62,40],[7.65,60],[7.68,56],[7.71,21],[7.74,-10],[7.78,-30],[7.81,-60],[7.84,-72],[7.87,-41],[7.91,-14],[7.93,9],[7.95,2],[7.99,29],[8.02,37],[8.05,48],[8.07,17],[8.1,-18],[8.12,9],[8.13,-65],[8.15,-88],[8.16,-45],[8.18,-72],[8.2,-25],[8.22,13],[8.25,25],[8.27,44],[8.28,152],[8.3,52],[8.33,13],[8.34,-41],[8.36,5],[8.38,-18],[8.41,5],[8.42,-37],[8.45,-105],[8.46,-53],[8.48,-80],[8.5,-33],[8.52,13],[8.55,-48],[8.57,52],[8.59,21],[8.62,40],[8.64,60],[8.66,80],[8.68,67],[8.7,21],[8.73,-3],[8.76,-37],[8.79,-65],[8.82,-100],[8.84,-95],[8.86,-65],[8.88,-45],[8.91,-10],[8.94,52],[8.97,67],[8.99,40],[9.01,80],[9.04,67],[9.06,32],[9.09,-3],[9.13,-48],[9.16,-88],[9.19,-105],[9.22,-65],[9.26,-14],[9.29,13],[9.31,48],[9.35,37],[9.39,67],[9.42,-18],[9.44,-21],[9.47,-60],[9.5,-72],[9.54,-41],[9.57,-18],[9.6,2],[9.63,9],[9.67,44],[9.7,52],[9.73,25],[9.76,-14],[9.8,-30],[9.83,-68],[9.85,-88],[9.88,-45],[9.91,2],[9.93,17],[9.96,40],[9.99,52]];

var t4O2 = [[0,3],[0.03,-1],[0.06,-4],[0.09,-8],[0.12,-12],[0.15,-14],[0.17,-8],[0.2,0],[0.24,4],[0.27,10],[0.29,6],[0.32,3],[0.36,-1],[0.38,3],[0.41,-4],[0.45,3],[0.48,-1],[0.5,6],[0.53,-4],[0.56,9],[0.59,-1],[0.62,3],[0.66,-4],[0.69,-1],[0.72,-4],[0.75,-3],[0.79,-1],[0.82,3],[0.85,6],[0.87,-10],[0.9,-1],[0.93,10],[0.96,16],[0.98,6],[1.01,3],[1.04,-1],[1.08,6],[1.11,-1],[1.13,3],[1.16,-4],[1.18,6],[1.21,-8],[1.22,-14],[1.25,3],[1.27,-8],[1.29,6],[1.31,-4],[1.33,3],[1.35,13],[1.38,-4],[1.4,17],[1.42,-8],[1.44,13],[1.46,6],[1.49,3],[1.51,-12],[1.53,10],[1.55,6],[1.58,17],[1.6,-14],[1.63,10],[1.65,-8],[1.67,6],[1.7,-1],[1.72,17],[1.74,-8],[1.77,13],[1.8,3],[1.82,-1],[1.84,10],[1.87,3],[1.9,-1],[1.93,4],[1.96,-5],[1.98,6],[2,10],[2.03,-4],[2.05,6],[2.09,-1],[2.12,4],[2.16,-1],[2.19,3],[2.22,6],[2.26,-1],[2.29,13],[2.32,-1],[2.35,-8],[2.36,-26],[2.38,3],[2.4,6],[2.42,-4],[2.46,6],[2.48,17],[2.51,6],[2.54,-1],[2.57,-4],[2.59,-12],[2.62,-22],[2.64,-15],[2.67,-1],[2.7,17],[2.73,10],[2.77,6],[2.8,3],[2.83,6],[2.85,-4],[2.88,-19],[2.9,-1],[2.92,-22],[2.94,-8],[2.97,3],[3,-1],[3.03,30],[3.06,13],[3.08,-8],[3.1,-22],[3.13,-4],[3.15,-12],[3.19,-1],[3.21,20],[3.23,13],[3.26,-4],[3.28,13],[3.32,-8],[3.35,-1],[3.38,3],[3.41,2],[3.45,3],[3.48,6],[3.51,-1],[3.55,-12],[3.58,20],[3.61,6],[3.64,-12],[3.66,-28],[3.69,-1],[3.72,13],[3.74,6],[3.77,20],[3.8,8],[3.82,30],[3.85,40],[3.87,26],[3.9,10],[3.92,-8],[3.95,-1],[3.98,10],[4.01,-12],[4.03,-22],[4.06,3],[4.08,-12],[4.1,13],[4.13,6],[4.16,17],[4.19,-1],[4.22,6],[4.24,10],[4.26,3],[4.29,-8],[4.32,-26],[4.34,-8],[4.36,-1],[4.39,6],[4.41,17],[4.45,-4],[4.47,13],[4.49,6],[4.52,-1],[4.54,3],[4.57,-15],[4.59,-22],[4.61,-1],[4.64,-8],[4.66,-28],[4.68,-1],[4.71,6],[4.74,6],[4.78,26],[4.81,13],[4.84,10],[4.87,-1],[4.9,-8],[4.93,-8],[4.95,17],[4.98,-12],[5.02,8],[5.06,30],[5.09,10],[5.13,-20],[5.16,-6],[5.2,13],[5.24,-4],[5.29,-20],[5.33,2],[5.38,20],[5.42,4],[5.46,-20],[5.5,-4],[5.53,7],[5.57,-6],[5.6,-13],[5.64,14],[5.67,40],[5.7,18],[5.74,-3],[5.78,-30],[5.82,-69],[5.85,-50],[5.87,-36],[5.9,0],[5.92,30],[5.95,16],[5.98,13],[6.02,36],[6.05,5],[6.07,-26],[6.1,-8],[6.12,13],[6.15,8],[6.18,30],[6.21,6],[6.25,-36],[6.28,-12],[6.3,7],[6.33,18],[6.35,30],[6.38,10],[6.41,-3],[6.45,30],[6.48,69],[6.51,45],[6.53,30],[6.56,0],[6.58,-20],[6.62,-30],[6.66,-46],[6.69,-20],[6.71,-3],[6.74,20],[6.77,36],[6.79,25],[6.82,53],[6.85,30],[6.87,13],[6.9,-5],[6.93,-20],[6.97,-8],[7,-3],[7.04,-20],[7.07,-36],[7.1,-10],[7.13,13],[7.17,30],[7.2,46],[7.24,40],[7.27,69],[7.29,40],[7.31,13],[7.34,-46],[7.37,-20],[7.4,-3],[7.44,20],[7.47,30],[7.5,18],[7.54,46],[7.57,20],[7.6,-3],[7.63,-20],[7.66,-36],[7.7,0],[7.73,46],[7.76,30],[7.78,13],[7.81,-8],[7.83,-20],[7.87,-4],[7.9,7],[7.93,-5],[7.96,-13],[8.01,-30],[8.04,-10],[8.08,13],[8.11,2],[8.14,-3],[8.18,25],[8.21,46],[8.24,20],[8.26,-3],[8.29,-36],[8.32,-5],[8.35,20],[8.38,36],[8.4,15],[8.42,-3],[8.45,-30],[8.47,-53],[8.5,-15],[8.52,13],[8.55,20],[8.58,30],[8.61,12],[8.64,-3],[8.67,-12],[8.69,-20],[8.72,-5],[8.76,13],[8.79,5],[8.82,-3],[8.85,-20],[8.87,-36],[8.9,-10],[8.93,13],[8.96,40],[9,79],[9.03,45],[9.05,13],[9.08,-36],[9.1,-20],[9.13,-3],[9.16,18],[9.18,30],[9.22,8],[9.26,-13],[9.3,2],[9.33,12],[9.36,20],[9.4,6],[9.43,-3],[9.47,12],[9.52,30],[9.55,15],[9.59,-3],[9.62,-15],[9.66,-36],[9.7,-45],[9.73,-50],[9.76,-69],[9.78,-45],[9.8,-20],[9.83,10],[9.86,46],[9.9,40],[9.93,50],[9.95,63],[9.98,40],[9.99,30]];

var fp1T3 = [[0,2],[0.03,-6],[0.05,-10],[0.07,3],[0.1,-6],[0.12,4],[0.16,0],[0.19,3],[0.22,-3],[0.25,2],[0.28,-1],[0.32,-5],[0.35,4],[0.38,-2],[0.41,-5],[0.45,-8],[0.48,-2],[0.51,-6],[0.54,-4],[0.58,4],[0.61,6],[0.64,-2],[0.67,2],[0.7,-6],[0.74,-4],[0.77,-8],[0.8,2],[0.83,-2],[0.87,-4],[0.9,2],[0.93,-2],[0.96,-6],[1,10],[1.03,6],[1.06,2],[1.09,2],[1.12,-2],[1.16,0],[1.19,-11],[1.22,-6],[1.25,-4],[1.29,-2],[1.32,-6],[1.35,2],[1.38,-2],[1.4,6],[1.43,18],[1.45,2],[1.48,12],[1.51,14],[1.54,2],[1.56,-6],[1.58,6],[1.61,-3],[1.63,-20],[1.66,-11],[1.68,-20],[1.71,-6],[1.73,-20],[1.75,-11],[1.79,-20],[1.82,-6],[1.84,-15],[1.87,2],[1.89,12],[1.92,34],[1.94,22],[1.96,40],[2,50],[2.03,66],[2.05,40],[2.08,-10],[2.1,-45],[2.13,-60],[2.16,-62],[2.19,-56],[2.22,-38],[2.25,-8],[2.27,6],[2.3,18],[2.34,22],[2.37,26],[2.4,22],[2.43,18],[2.47,13],[2.5,2],[2.53,-11],[2.55,-3],[2.57,-11],[2.59,2],[2.62,-14],[2.64,2],[2.67,-18],[2.69,-3],[2.71,-6],[2.74,6],[2.77,2],[2.79,14],[2.81,-6],[2.84,10],[2.86,6],[2.89,10],[2.91,-3],[2.93,2],[2.97,2],[2.99,6],[3.01,-3],[3.05,-6],[3.08,-3],[3.11,-3],[3.13,6],[3.16,4],[3.19,10],[3.21,2],[3.23,14],[3.26,10],[3.28,18],[3.31,-14],[3.33,6],[3.36,-6],[3.39,2],[3.41,10],[3.44,2],[3.47,10],[3.49,-6],[3.52,2],[3.55,-8],[3.58,-3],[3.61,-6],[3.64,2],[3.68,-3],[3.71,2],[3.74,6],[3.77,4],[3.81,14],[3.84,6],[3.86,10],[3.89,2],[3.92,-3],[3.95,14],[3.97,-3],[3.99,-11],[4.02,-5],[4.04,-16],[4.06,2],[4.09,-11],[4.11,2],[4.14,-22],[4.16,-3],[4.19,4],[4.21,6],[4.24,14],[4.26,10],[4.29,30],[4.32,22],[4.34,2],[4.36,-6],[4.39,-5],[4.41,-11],[4.44,-16],[4.47,-22],[4.49,-11],[4.52,-14],[4.54,-6],[4.57,2],[4.59,14],[4.62,2],[4.65,20],[4.67,30],[4.7,20],[4.72,10],[4.75,2],[4.78,-11],[4.81,-20],[4.83,-6],[4.87,-11],[4.9,-3],[4.93,-15],[4.96,2],[4.99,10],[5.02,2],[5.05,-3],[5.08,-11],[5.11,-6],[5.15,2],[5.17,-6],[5.19,30],[5.22,40],[5.24,24],[5.26,10],[5.29,2],[5.32,6],[5.35,-22],[5.38,-22],[5.41,-11],[5.45,-14],[5.48,-3],[5.5,2],[5.53,-20],[5.56,-6],[5.58,14],[5.61,6],[5.65,24],[5.68,-3],[5.71,-3],[5.74,2],[5.77,-3],[5.81,-3],[5.84,-11],[5.87,-28],[5.9,-28],[5.94,2],[5.97,24],[5.99,36],[6.03,45],[6.07,36],[6.1,10],[6.12,-28],[6.15,-24],[6.17,-60],[6.19,-33],[6.22,-11],[6.24,14],[6.27,18],[6.29,10],[6.32,-6],[6.34,2],[6.37,-6],[6.4,-3],[6.44,18],[6.47,36],[6.5,28],[6.53,-6],[6.57,-28],[6.6,-11],[6.62,2],[6.65,6],[6.68,-6],[6.7,14],[6.73,6],[6.76,-3],[6.79,-22],[6.81,-3],[6.84,2],[6.87,-3],[6.91,-6],[6.94,2],[6.97,-6],[7,6],[7.03,2],[7.07,45],[7.1,24],[7.13,-6],[7.16,-28],[7.19,-58],[7.22,-42],[7.24,-6],[7.28,26],[7.3,48],[7.32,44],[7.35,14],[7.37,-6],[7.4,-28],[7.43,-50],[7.46,-54],[7.49,-42],[7.52,-6],[7.55,14],[7.58,24],[7.62,24],[7.65,18],[7.68,28],[7.71,6],[7.74,-6],[7.77,-6],[7.8,-22],[7.82,-45],[7.84,-36],[7.87,-22],[7.91,-11],[7.94,-3],[7.97,22],[8,28],[8.03,36],[8.05,50],[8.07,18],[8.1,6],[8.12,-11],[8.14,-52],[8.16,-15],[8.18,-33],[8.2,2],[8.23,-6],[8.25,-11],[8.28,48],[8.31,-50],[8.33,-36],[8.36,-3],[8.38,18],[8.41,28],[8.43,6],[8.46,-6],[8.48,2],[8.5,24],[8.53,-11],[8.55,28],[8.58,28],[8.6,-22],[8.63,-3],[8.66,28],[8.7,24],[8.73,2],[8.76,-11],[8.79,-36],[8.82,-20],[8.85,-50],[8.88,-20],[8.91,-6],[8.95,32],[8.97,40],[9,36],[9.03,48],[9.06,18],[9.09,-15],[9.13,-24],[9.16,-36],[9.19,-54],[9.22,-28],[9.26,-3],[9.29,10],[9.32,18],[9.34,24],[9.38,40],[9.41,36],[9.44,2],[9.47,-33],[9.49,-50],[9.53,-36],[9.56,-11],[9.59,10],[9.61,20],[9.63,28],[9.66,6],[9.68,36],[9.71,40],[9.73,14],[9.76,-22],[9.8,-20],[9.83,-22],[9.86,-20],[9.89,-11],[9.92,28],[9.95,28],[9.97,44],[9.99,36]];

var t3O1 = [[0,-1],[0.03,-5],[0.06,-1],[0.08,-9],[0.11,1],[0.13,-5],[0.16,-18],[0.18,-14],[0.21,-30],[0.24,-5],[0.27,16],[0.3,4],[0.33,-1],[0.37,8],[0.4,-3],[0.43,4],[0.46,-9],[0.49,-1],[0.53,-1],[0.56,4],[0.58,12],[0.61,4],[0.64,-1],[0.67,-1],[0.7,4],[0.73,-22],[0.76,-9],[0.79,-9],[0.83,-1],[0.86,4],[0.89,16],[0.91,8],[0.95,-5],[0.98,4],[1.01,8],[1.04,-1],[1.08,-5],[1.11,-1],[1.14,4],[1.17,-5],[1.21,-1],[1.24,-22],[1.27,-5],[1.29,1],[1.32,8],[1.34,-14],[1.37,-5],[1.39,12],[1.42,20],[1.43,8],[1.46,33],[1.5,4],[1.53,-1],[1.56,4],[1.58,-22],[1.61,-9],[1.64,-1],[1.67,-9],[1.71,16],[1.74,-9],[1.77,-5],[1.8,-14],[1.84,-1],[1.87,4],[1.88,-14],[1.91,4],[1.94,20],[1.97,12],[2,8],[2.03,16],[2.05,20],[2.08,4],[2.1,-1],[2.13,-9],[2.16,-22],[2.18,-5],[2.21,4],[2.23,16],[2.25,-14],[2.27,-9],[2.29,-22],[2.31,-42],[2.34,-9],[2.36,-1],[2.38,-5],[2.42,4],[2.45,8],[2.48,12],[2.51,20],[2.53,24],[2.55,8],[2.58,-1],[2.6,-9],[2.64,-26],[2.67,-14],[2.69,4],[2.71,-1],[2.74,16],[2.77,-1],[2.8,-5],[2.84,-1],[2.87,4],[2.9,-5],[2.93,-1],[2.97,-5],[3,4],[3.02,33],[3.05,20],[3.07,4],[3.1,-18],[3.13,-1],[3.15,8],[3.19,-14],[3.21,16],[3.23,-1],[3.26,-9],[3.29,-18],[3.32,-14],[3.35,-22],[3.38,-9],[3.41,-1],[3.44,-9],[3.48,4],[3.51,-1],[3.54,8],[3.56,20],[3.59,-1],[3.61,-14],[3.64,-1],[3.66,12],[3.68,-14],[3.71,-5],[3.74,8],[3.76,-14],[3.79,-1],[3.82,-5],[3.84,16],[3.87,-1],[3.9,-9],[3.92,8],[3.94,-9],[3.97,-30],[3.99,-9],[4.02,-5],[4.04,-26],[4.06,-1],[4.09,8],[4.11,-5],[4.14,12],[4.16,-1],[4.19,4],[4.21,8],[4.23,16],[4.26,-1],[4.28,12],[4.31,-1],[4.34,8],[4.37,24],[4.4,8],[4.44,-1],[4.47,-14],[4.5,-18],[4.53,-22],[4.57,-40],[4.6,-18],[4.63,8],[4.66,16],[4.69,8],[4.73,24],[4.76,33],[4.79,16],[4.82,20],[4.86,12],[4.89,-1],[4.92,-5],[4.94,-9],[4.97,4],[4.99,-22],[5.01,-5],[5.03,-9],[5.06,-5],[5.1,-1],[5.12,4],[5.15,-18],[5.17,8],[5.19,4],[5.22,-5],[5.24,12],[5.26,-5],[5.29,8],[5.32,12],[5.35,20],[5.37,8],[5.4,-18],[5.44,30],[5.46,-5],[5.48,-35],[5.51,-9],[5.54,-26],[5.57,-40],[5.61,-18],[5.63,4],[5.65,-9],[5.68,42],[5.7,16],[5.73,30],[5.75,4],[5.77,-22],[5.8,4],[5.82,-22],[5.86,16],[5.88,12],[5.9,-1],[5.94,-14],[5.97,-1],[5.99,-14],[6.02,4],[6.04,20],[6.07,-1],[6.1,-1],[6.12,12],[6.15,-30],[6.18,-18],[6.21,-26],[6.24,-30],[6.28,-14],[6.3,-1],[6.32,8],[6.35,24],[6.37,4],[6.39,20],[6.42,42],[6.44,56],[6.47,38],[6.5,30],[6.53,4],[6.57,-22],[6.6,-35],[6.62,-54],[6.64,-66],[6.66,-48],[6.7,-30],[6.73,-5],[6.76,12],[6.79,33],[6.82,8],[6.86,20],[6.89,20],[6.92,8],[6.95,20],[6.99,8],[7.02,-5],[7.05,-22],[7.08,-35],[7.11,-56],[7.13,-26],[7.16,8],[7.2,46],[7.23,16],[7.26,-1],[7.29,-1],[7.32,-30],[7.35,4],[7.38,-5],[7.42,-1],[7.45,8],[7.48,-9],[7.51,-1],[7.54,-5],[7.58,-18],[7.61,-30],[7.64,-22],[7.67,8],[7.71,33],[7.74,33],[7.77,-5],[7.8,-9],[7.84,-30],[7.87,-18],[7.9,-1],[7.93,12],[7.96,20],[7.99,8],[8.02,8],[8.04,-9],[8.07,-9],[8.09,-26],[8.13,-1],[8.15,-22],[8.18,-5],[8.2,-18],[8.23,-1],[8.25,-14],[8.28,8],[8.31,-14],[8.33,4],[8.36,8],[8.4,38],[8.42,16],[8.46,33],[8.48,12],[8.5,30],[8.54,8],[8.56,-18],[8.58,-74],[8.6,-48],[8.63,-35],[8.66,-22],[8.7,-9],[8.73,8],[8.76,-1],[8.78,16],[8.81,-9],[8.84,12],[8.87,12],[8.9,20],[8.93,8],[8.97,4],[9,24],[9.03,-5],[9.06,-9],[9.09,-18],[9.13,-26],[9.16,-30],[9.19,-9],[9.22,4],[9.26,8],[9.29,16],[9.32,-5],[9.35,42],[9.38,-5],[9.42,-35],[9.45,-9],[9.48,4],[9.51,-22],[9.55,-1],[9.58,4],[9.61,-14],[9.64,-1],[9.68,16],[9.7,24],[9.73,-9],[9.76,-22],[9.8,-18],[9.83,8],[9.86,16],[9.89,12],[9.92,8],[9.96,-9],[9.98,-26],[9.99,-1]];

var ecg = [[0,0],[0.3,-10],[0.57,-20],[0.59,890],[0.605,-180],[0.63,-60],[0.69,-10],[0.75,60],[0.82,200],[0.89,50],[0.97,0],[1.2,-10],[1.42,-20],[1.44,880],[1.455,-170],[1.48,-60],[1.54,-10],[1.6,60],[1.67,190],[1.74,50],[1.82,0],[2.05,-10],[2.27,-20],[2.29,900],[2.305,-180],[2.33,-60],[2.39,-10],[2.45,60],[2.52,200],[2.59,50],[2.67,0],[2.95,-10],[3.19,-20],[3.21,870],[3.225,-170],[3.25,-60],[3.31,-10],[3.37,60],[3.44,190],[3.51,50],[3.59,0],[3.85,-10],[4.08,-20],[4.1,880],[4.115,-180],[4.14,-60],[4.2,-10],[4.26,60],[4.33,190],[4.4,50],[4.48,0],[4.75,-10],[4.96,-20],[4.98,900],[4.995,-180],[5.02,-60],[5.08,-10],[5.14,60],[5.21,200],[5.28,50],[5.36,0],[5.62,-10],[5.85,-20],[5.87,880],[5.885,-170],[5.91,-60],[5.97,-10],[6.03,60],[6.1,200],[6.17,50],[6.25,0],[6.52,-10],[6.75,-20],[6.77,890],[6.785,-180],[6.81,-60],[6.87,-10],[6.93,60],[7,200],[7.07,50],[7.15,0],[7.42,-10],[7.66,-20],[7.68,880],[7.695,-170],[7.72,-60],[7.78,-10],[7.84,60],[7.91,200],[7.98,50],[8.06,0],[8.3,-10],[8.5,-20],[8.52,870],[8.535,-170],[8.56,-60],[8.62,-10],[8.68,60],[8.75,190],[8.82,50],[8.9,0],[9.15,-10],[9.34,-20],[9.36,880],[9.375,-180],[9.4,-60],[9.46,-10],[9.52,60],[9.59,200],[9.66,50],[9.74,0],[9.99,-10]];

var signals = [iv1Ref, fp2C4, c4O2, fp1C3, c3O1, fp2T4, t4O2, fp1T3, t3O1, ecg];

var svg = d3.select("#eegSvg");
var width = +svg.attr("width");
var height = +svg.attr("height");
var font = "'Liberation Sans', Arial, sans-serif";

var x = d3.scaleLinear()
        .domain(duration)
        .range([211.6, 1889.6]);

var row = d3.scaleLinear()
        .domain([0, channels.length - 1])
        .range([122.5, 1733.5]);

// one-second dashed markers
svg.append("g")
        .attr("class", "grid")
        .selectAll("line")
        .data(gridSeconds)
        .enter()
        .append("line")
        .attr("x1", function (d) { return x(d); })
        .attr("x2", function (d) { return x(d); })
        .attr("y1", 0)
        .attr("y2", height)
        .attr("stroke", "#8a8a8a")
        .attr("stroke-width", 1.3)
        .attr("stroke-dasharray", "4,3");

channels.forEach(function (name, i) {
    var base = row(i);
    var half = i === 0 ? 44 : 36.5;
    var amp = scaleBarsUv[i] / 2;
    var y = d3.scaleLinear()
            .domain([-amp, amp])
            .range([base + half, base - half]);

    var g = svg.append("g").attr("class", "channel");

    g.append("text")
            .attr("x", 3)
            .attr("y", base + 10.5)
            .attr("font-family", font)
            .attr("font-size", 28)
            .attr("fill", "#111")
            .text(name);

    // calibration bar
    var barX = 200;
    g.append("path")
            .attr("d", "M" + (barX - 5) + "," + y(amp) + "H" + (barX + 5) +
                    "M" + barX + "," + y(amp) + "V" + y(-amp) +
                    "M" + (barX - 5) + "," + y(-amp) + "H" + (barX + 5))
            .attr("fill", "none")
            .attr("stroke", "#111")
            .attr("stroke-width", 3);

    g.append("text")
            .attr("x", barX)
            .attr("y", y(-amp) + 18)
            .attr("text-anchor", "middle")
            .attr("font-family", font)
            .attr("font-size", 19)
            .attr("fill", "#111")
            .text(scaleBarsUv[i] + " \u00b5V");

    var line = d3.line()
            .x(function (d) { return x(d[0]); })
            .y(function (d) { return y(d[1]); });

    g.append("path")
            .datum(signals[i])
            .attr("d", line)
            .attr("fill", "none")
            .attr("stroke", "#111")
            .attr("stroke-width", 2.4)
            .attr("stroke-linejoin", "round");
});
</script>
</body>
</html>
